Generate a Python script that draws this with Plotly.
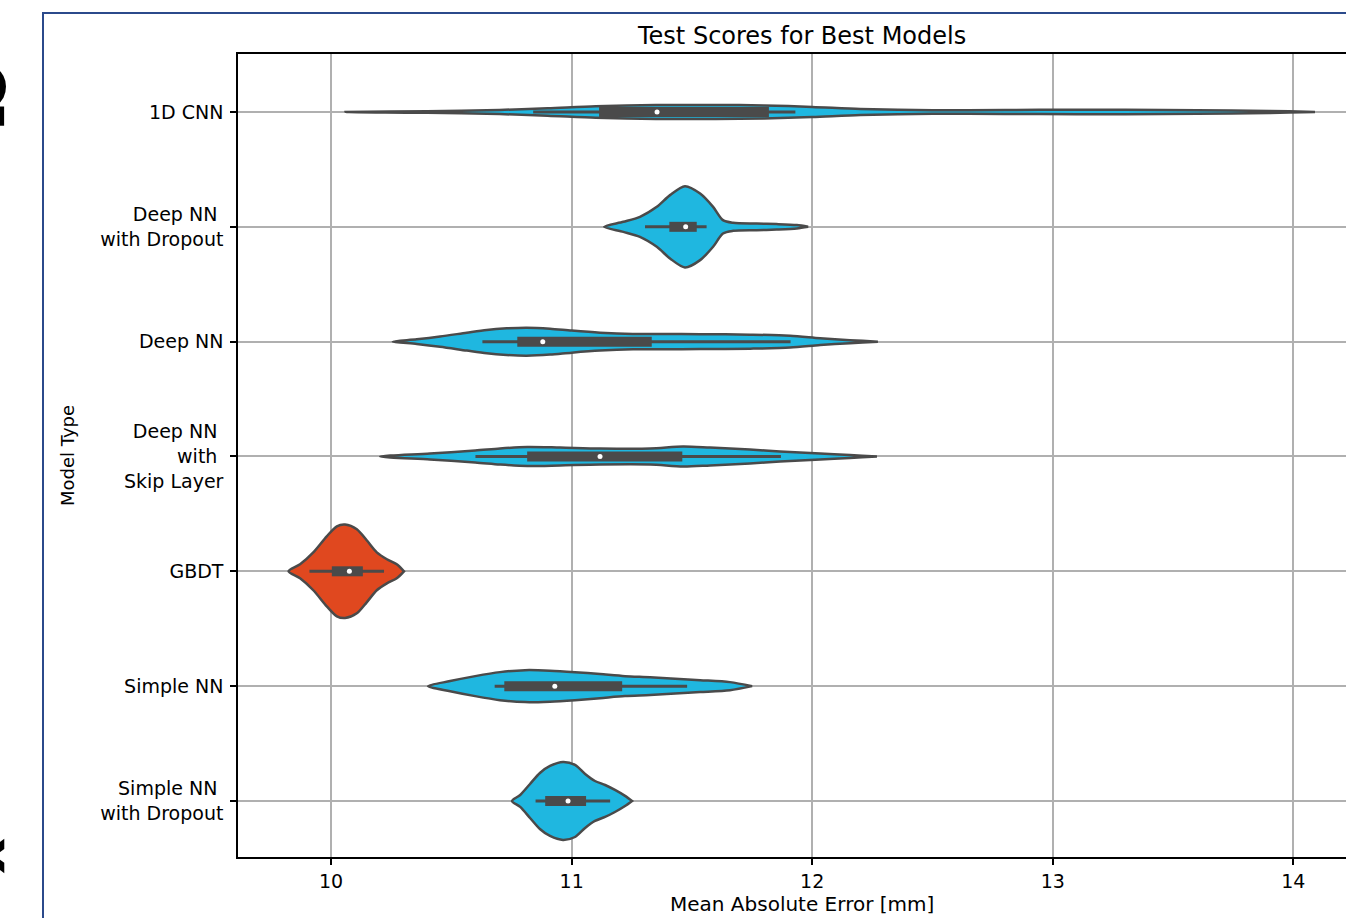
import plotly.graph_objects as go

# ---------------- data ----------------
models = ["1D CNN", "Deep NN with Dropout", "Deep NN", "Deep NN with Skip Layer",
          "GBDT", "Simple NN", "Simple NN with Dropout"]
tick_labels = ["1D CNN",
               "Deep NN\u00a0<br>with Dropout",
               "Deep NN",
               "Deep NN\u00a0<br>with\u00a0<br>Skip Layer",
               "GBDT",
               "Simple NN",
               "Simple NN\u00a0<br>with Dropout"]

# density profile: MAE grid and violin half-width (in category units)
cnn_x = [10.06, 10.4, 10.7, 10.9, 11.1, 11.35, 11.6, 11.8, 12.0, 12.2, 12.5, 12.8, 13.1, 13.3, 13.6, 13.9, 14.09]
cnn_w = [0, .007, .018, .032, .050, .060, .061, .057, .044, .026, .015, .017, .02, .02, .015, .009, 0]

dnd_x = [11.135, 11.215, 11.284, 11.354, 11.409, 11.471, 11.534, 11.588, 11.629, 11.671, 11.769, 11.852, 11.936, 11.983]
dnd_w = [0, .044, .087, .174, .276, .354, .29, .174, .058, .035, .029, .024, .015, 0]

dnn_x = [10.256, 10.356, 10.453, 10.564, 10.647, 10.730, 10.813, 10.910, 11.000, 11.118, 11.255, 11.367,
         11.534, 11.742, 11.908, 12.033, 12.157, 12.273]
dnn_w = [0, .020, .044, .078, .102, .116, .122, .113, .096, .078, .067, .067, .065, .061, .052, .030, .013, 0]

skip_x = [10.204, 10.411, 10.599, 10.702, 10.815, 10.952, 11.118, 11.326, 11.463, 11.575, 11.741, 11.866,
          12.033, 12.157, 12.269]
skip_w = [0, .026, .052, .070, .083, .078, .070, .070, .087, .078, .061, .044, .026, .013, 0]

gbdt_x = [9.823, 9.871, 9.926, 9.982, 10.024, 10.058, 10.107, 10.148, 10.19, 10.232, 10.273, 10.303]
gbdt_w = [0, .061, .165, .305, .392, .407, .366, .270, .165, .105, .061, 0]

snn_x = [10.403, 10.495, 10.599, 10.702, 10.806, 10.91, 11.014, 11.118, 11.222, 11.326, 11.43, 11.534, 11.658, 11.75]
snn_w = [0, .044, .087, .122, .139, .135, .122, .105, .087, .078, .065, .052, .035, 0]

snd_x = [10.752, 10.786, 10.827, 10.868, 10.91, 10.964, 11.014, 11.056, 11.097, 11.139, 11.18, 11.222, 11.251]
snd_w = [0, .052, .148, .244, .305, .340, .314, .235, .174, .139, .096, .044, 0]

density_x = [cnn_x, dnd_x, dnn_x, skip_x, gbdt_x, snn_x, snd_x]
density_w = [cnn_w, dnd_w, dnn_w, skip_w, gbdt_w, snn_w, snd_w]

# box statistics: lower whisker, q1, median, q3, upper whisker
whisk_lo = [10.84, 11.305, 10.629, 10.60, 9.91, 10.68, 10.85]
q1 =       [11.114, 11.406, 10.774, 10.815, 10.003, 10.72, 10.89]
median =   [11.355, 11.474, 10.88, 11.118, 10.076, 10.93, 10.985]
q3 =       [11.82, 11.520, 11.333, 11.46, 10.132, 11.21, 11.06]
whisk_hi = [11.93, 11.561, 11.91, 11.87, 10.22, 11.48, 11.16]

x_ticks = [10, 11, 12, 13, 14]

# ---------------- styles ----------------
CYAN = "#1fb7e0"
ORANGE = "#e0481f"
GRAY = "#4a4a4a"
FONT = "DejaVu Sans"

fig = go.Figure()

for i, m in enumerate(models):
    xs = density_x[i]
    ws = density_w[i]
    px = list(xs) + list(xs[::-1])
    py = [i - w for w in ws] + [i + w for w in ws[::-1]]
    fig.add_trace(go.Scatter(
        x=px, y=py, mode="lines", fill="toself",
        fillcolor=ORANGE if m == "GBDT" else CYAN,
        line=dict(color=GRAY, width=2.5, shape="spline", smoothing=0.8),
        hoverinfo="skip", showlegend=False))

for i, m in enumerate(models):
    fig.add_trace(go.Scatter(x=[whisk_lo[i], whisk_hi[i]], y=[i, i], mode="lines",
                             line=dict(color=GRAY, width=3), showlegend=False, hoverinfo="skip"))
    fig.add_trace(go.Scatter(x=[q1[i], q3[i]], y=[i, i], mode="lines",
                             line=dict(color=GRAY, width=10), showlegend=False, hoverinfo="skip"))
    fig.add_trace(go.Scatter(x=[median[i]], y=[i], mode="markers",
                             marker=dict(color="white", size=5), showlegend=False, name=m))

W, H = 1346, 918
L, R, T, B = 238, 0, 54, 61
pw, ph = W - L - R, H - T - B

def px2paper_x(p):
    return (p - L) / pw

def px2paper_y(p):
    return (H - B - p) / ph

fig.update_layout(
    width=W, height=H,
    margin=dict(l=L, r=R, t=T, b=B, pad=0),
    paper_bgcolor="white", plot_bgcolor="white",
    font=dict(family=FONT, size=19, color="black"),
    showlegend=False,
    xaxis=dict(range=[9.613, 14.219], tickvals=x_ticks, ticktext=[str(v) for v in x_ticks],
               showgrid=True, gridcolor="#b0b0b0", gridwidth=1.5,
               showline=True, linecolor="black", linewidth=1.5, mirror=True,
               ticks="outside", ticklen=6, tickwidth=1.5, tickcolor="black",
               tickfont=dict(size=19), zeroline=False),
    yaxis=dict(range=[6.488, -0.505], tickvals=list(range(len(models))), ticktext=tick_labels,
               showgrid=True, gridcolor="#b0b0b0", gridwidth=1.5,
               showline=True, linecolor="black", linewidth=1.5, mirror=False,
               ticks="outside", ticklen=6, tickwidth=1.5, tickcolor="black",
               ticklabelstandoff=3,
               tickfont=dict(size=19), zeroline=False),
    annotations=[
        dict(text="Test Scores for Best Models", x=px2paper_x(801), y=px2paper_y(36),
             xref="paper", yref="paper", showarrow=False, font=dict(size=24),
             xanchor="center", yanchor="middle"),
        dict(text="Mean Absolute Error [mm]", x=px2paper_x(802), y=px2paper_y(904),
             xref="paper", yref="paper", showarrow=False, font=dict(size=20),
             xanchor="center", yanchor="middle"),
        dict(text="Model Type", x=px2paper_x(67), y=px2paper_y(456), textangle=-90,
             xref="paper", yref="paper", showarrow=False, font=dict(size=18),
             xanchor="center", yanchor="middle"),
        dict(text="<b>b</b>", x=px2paper_x(-34), y=px2paper_y(96), textangle=-90,
             xref="paper", yref="paper", showarrow=False, font=dict(size=110),
             xanchor="center", yanchor="middle"),
        dict(text="<b>x</b>", x=px2paper_x(-16), y=px2paper_y(856), textangle=-90,
             xref="paper", yref="paper", showarrow=False, font=dict(size=56),
             xanchor="center", yanchor="middle"),
    ],
    shapes=[
        dict(type="rect", xref="paper", yref="paper",
             x0=px2paper_x(43), x1=px2paper_x(1400), y0=px2paper_y(1000), y1=px2paper_y(13),
             line=dict(color="#2b4a8b", width=2), fillcolor="rgba(0,0,0,0)", layer="above"),
    ],
)

fig.write_html("out.html", config={"displayModeBar": False},
               post_script="document.body.style.margin='0px';document.body.style.overflow='hidden';")
